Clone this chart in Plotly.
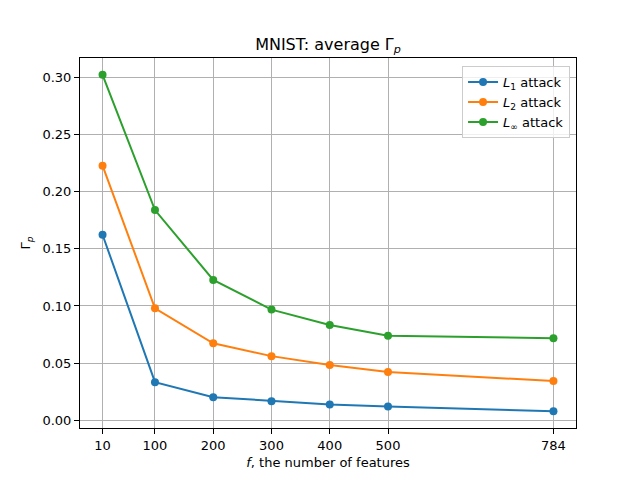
import plotly.graph_objects as go

# Data
features = [10, 100, 200, 300, 400, 500, 784]
l1_attack = [0.1623, 0.0333, 0.0202, 0.0167, 0.0138, 0.0120, 0.0079]
l2_attack = [0.2228, 0.0980, 0.0673, 0.0561, 0.0484, 0.0422, 0.0343]
linf_attack = [0.3023, 0.1839, 0.1228, 0.0968, 0.0833, 0.0739, 0.0718]

series = [
    ("<i>L</i><sub>1</sub> attack", l1_attack, "#1f77b4"),
    ("<i>L</i><sub>2</sub> attack", l2_attack, "#ff7f0e"),
    ("<i>L</i><sub>∞</sub> attack", linf_attack, "#2ca02c"),
]

fig = go.Figure()
for name, values, color in series:
    fig.add_trace(go.Scatter(
        x=features,
        y=values,
        mode="lines+markers",
        name=name,
        line=dict(color=color, width=2),
        marker=dict(color=color, size=8),
    ))

axis_style = dict(
    showline=True,
    linecolor="black",
    linewidth=1,
    mirror=True,
    ticks="outside",
    ticklen=5,
    tickcolor="black",
    tickfont=dict(size=13),
    showgrid=True,
    gridcolor="#b0b0b0",
    gridwidth=1,
    zeroline=False,
)

# page body has an 8px margin, so the figure is drawn 8px smaller
fig.update_layout(
    width=632,
    height=472,
    paper_bgcolor="white",
    plot_bgcolor="white",
    margin=dict(l=72, r=64, t=50, b=52),
    font=dict(family="DejaVu Sans", size=13, color="black"),
    title=dict(
        text="MNIST: average Γ<sub><i>p</i></sub>",
        x=0.5,
        xref="paper",
        xanchor="center",
        y=1 - 42 / 472,
        yanchor="bottom",
        font=dict(size=16),
    ),
    xaxis=dict(
        range=[-28.7, 822.7],
        tickvals=features,
        ticktext=[str(v) for v in features],
        title=dict(text="<i>f</i>, the number of features", standoff=6,
                   font=dict(size=13)),
        **axis_style,
    ),
    yaxis=dict(
        range=[-0.0068, 0.317],
        tickvals=[0, 0.05, 0.10, 0.15, 0.20, 0.25, 0.30],
        tickformat=".2f",
        title=dict(text="Γ<sub><i>p</i></sub>", standoff=8,
                   font=dict(size=13)),
        **axis_style,
    ),
    legend=dict(
        x=0.988,
        y=0.978,
        xanchor="right",
        yanchor="top",
        bgcolor="rgba(255,255,255,0.8)",
        bordercolor="#cccccc",
        borderwidth=1,
        font=dict(size=13),
    ),
    showlegend=True,
)

fig.write_html("out.html")
